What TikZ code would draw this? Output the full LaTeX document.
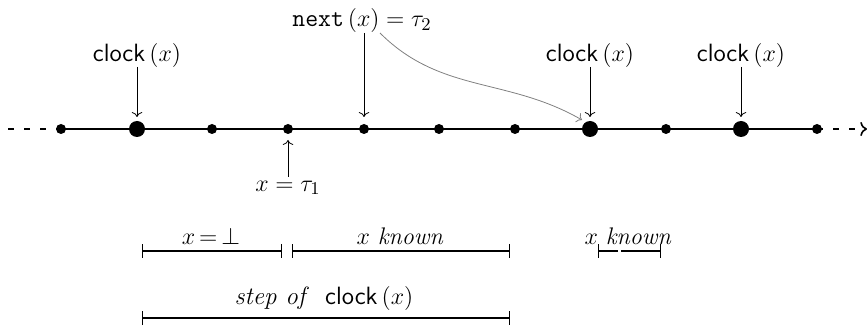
\documentclass[tikz,border=0pt]{standalone}
\usetikzlibrary{arrows.meta}
\begin{document}
\begin{tikzpicture}[x=0.5pt,y=-0.5pt,
  font=\fontsize{12.5}{15}\selectfont,
  dotsm/.style={circle,fill=black,inner sep=0pt,minimum size=5pt},
  dotbig/.style={circle,fill=black,inner sep=0pt,minimum size=8pt},
  lab/.style={inner sep=1pt},
  ptr/.style={->,thin},
  axdash/.style={thick,dash pattern=on 3pt off 5pt},
  span/.style={semithick,{Bar[width=7pt]}-{Bar[width=7pt]}},
  spanl/.style={semithick,{Bar[width=7pt]}-},
  spanr/.style={semithick,-{Bar[width=7pt]}}]
\useasboundingbox (0,0) rectangle (867,331);
% dots
\node[dotsm]  (d1)  at (61,129) {};
\node[dotbig] (d2)  at (137,129) {};
\node[dotsm]  (d3)  at (212,129) {};
\node[dotsm]  (d4)  at (288,129) {};
\node[dotsm]  (d5)  at (364,129) {};
\node[dotsm]  (d6)  at (439,129) {};
\node[dotsm]  (d7)  at (515,129) {};
\node[dotbig] (d8)  at (590,129) {};
\node[dotsm]  (d9)  at (666,129) {};
\node[dotbig] (d10) at (741,129) {};
\node[dotsm]  (d11) at (817,129) {};
\coordinate (ls) at (8,129);
\coordinate (le) at (867,129);
\draw[axdash] (ls) -- (d1.center);
\draw[thick] (d1.center) -- (d11.center);
\draw[axdash,->] (d11.center) -- (le);
% top labels
\node[lab] (c1) at (137,56) {\textsf{clock}\,$(x)$};
\node[lab] (c2) at (590,56) {\textsf{clock}\,$(x)$};
\node[lab] (c3) at (741,56) {\textsf{clock}\,$(x)$};
\node[lab] (nx) at (362,21) {$\texttt{next}\,(x) = \tau_2$};
\coordinate (c1a) at (137,67);  \coordinate (c1b) at (137,117);
\coordinate (c2a) at (590,67);  \coordinate (c2b) at (590,117);
\coordinate (c3a) at (741,67);  \coordinate (c3b) at (741,117);
\coordinate (nxa) at (364,33);  \coordinate (nxc) at (364,117);
\coordinate (nxb) at (380,33);  \coordinate (nxd) at (582,120);
\draw[ptr] (c1a) -- (c1b);
\draw[ptr] (c2a) -- (c2b);
\draw[ptr] (c3a) -- (c3b);
\draw[ptr] (nxa) -- (nxc);
\draw[->,gray] (nxb) to[out=-45,in=150] (nxd);
% bottom label
\node[lab,font=\fontsize{13}{15}\selectfont] (tau1) at (288,188) {$x = \tau_1$};
\coordinate (t1a) at (288,177); \coordinate (t1b) at (288,140);
\draw[ptr] (t1a) -- (t1b);
% spans
\node[lab,font=\fontsize{12}{14}\selectfont] (s1) at (211,236) {$x\,{=}\,\bot$};
\node[lab,font=\fontsize{12}{14}\selectfont] (s2) at (400,236) {$x$ \textit{known}};
\node[lab,font=\fontsize{12}{14}\selectfont] (s3) at (628,236) {$x$ \textit{known}};
\node[lab] (s4) at (324,299) {\textit{step of} \ \textsf{clock}\,$(x)$};
\coordinate (a1) at (142,251); \coordinate (b1) at (282,251);
\coordinate (a2) at (292,251); \coordinate (b2) at (510,251);
\coordinate (a3) at (598,251); \coordinate (m3) at (618,251);
\coordinate (n3) at (621,251); \coordinate (b3) at (661,251);
\coordinate (a4) at (142,318); \coordinate (b4) at (510,318);
\draw[span] (a1) -- (b1);
\draw[span] (a2) -- (b2);
\draw[spanl] (a3) -- (m3);
\draw[spanr] (n3) -- (b3);
\draw[span] (a4) -- (b4);
\end{tikzpicture}
\end{document}
